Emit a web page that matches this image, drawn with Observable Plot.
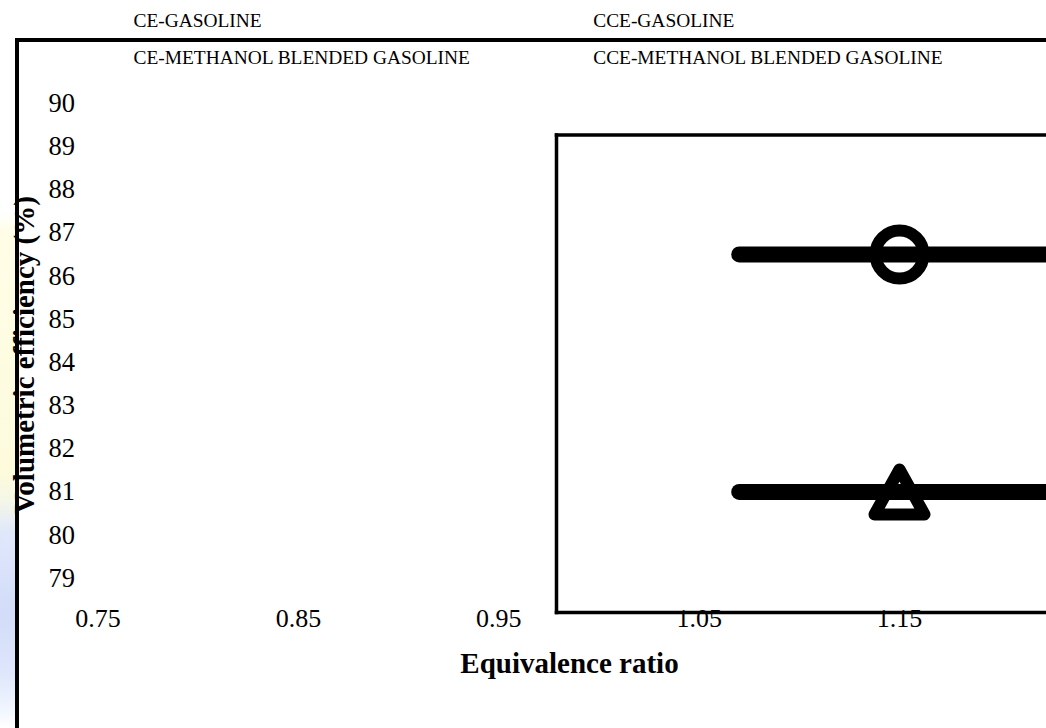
<!DOCTYPE html>
<html>
<head>
<meta charset="utf-8">
<script src="https://cdn.jsdelivr.net/npm/d3@7"></script>
<script src="https://cdn.jsdelivr.net/npm/@observablehq/plot@0.6"></script>
<style>
  html, body { margin: 0; padding: 0; background: #fff; overflow: hidden; }
  #wrap { position: relative; width: 1046px; height: 728px; overflow: hidden; }
  #bg { position: absolute; left: 0; top: 212px; width: 15px; height: 516px;
        background: linear-gradient(to bottom, #ffffff 0px, #fffde6 20px, #fdfbdc 260px, #f4f6e8 290px, #dfe8fb 320px, #d3dcf8 400px, #dde6fb 460px, #f2f6fe 500px, #ffffff 516px); }
  #outer { position: absolute; left: 15px; top: 38px; width: 1100px; height: 800px;
           border-top: 4px solid #000; border-left: 4px solid #000; box-sizing: border-box; }
  #chart { position: absolute; left: 0; top: 0; }
</style>
</head>
<body>
<div id="wrap">
  <div id="bg"></div>
  <div id="outer"></div>
  <div id="chart"></div>
</div>
<script>
// ---- data ----
const xTicks = [0.75, 0.85, 0.95, 1.05, 1.15];
const yTicks = [79, 80, 81, 82, 83, 84, 85, 86, 87, 88, 89, 90];
const phi = [1.07, 1.15, 1.25];
const veCircleSeries = [86.5, 86.5, 86.5];
const veTriangleSeries = [81, 81, 81];
const legendLeft = ["CE-GASOLINE", "CE-METHANOL BLENDED GASOLINE"];
const legendRight = ["CCE-GASOLINE", "CCE-METHANOL BLENDED GASOLINE"];
const xTitle = "Equivalence ratio";
const yTitle = "Volumetric efficiency (%)";

// ---- tables ----
const circleData = phi.map((x, i) => ({phi: x, ve: veCircleSeries[i], idx: i}));
const triangleData = phi.map((x, i) => ({phi: x, ve: veTriangleSeries[i], idx: i}));

// triangle centred on its bounding box (spreadsheet-style marker)
const boxTriangle = {
  draw(context, size) {
    const r = Math.sqrt(size / Math.PI);
    const h = r * 0.9;
    context.moveTo(0, -h);
    context.lineTo(r, h);
    context.lineTo(-r, h);
    context.closePath();
  }
};

const W = 1046, H = 728;
const font = "'Liberation Serif', 'Times New Roman', serif";

const chart = Plot.plot({
  width: W,
  height: H,
  marginLeft: 556,
  marginTop: 134.5,
  marginBottom: 116,
  marginRight: 0,
  style: {background: "transparent", fontFamily: font, fontSize: "26px", color: "#000"},
  x: {type: "linear", domain: [0.75, 1.15], range: [97.5, 899]},
  y: {type: "linear", domain: [79, 90], range: [577.8, 102.8]},
  marks: [
    Plot.axisX({ticks: xTicks, tickSize: 0, tickPadding: 0, dy: -3.5, fontSize: 26,
                tickFormat: d => d.toFixed(2), label: null}),
    Plot.axisY({ticks: yTicks, tickSize: 0, tickPadding: 0, dx: -508, textAnchor: "start",
                fontSize: 26.5, tickFormat: d => String(d), label: null}),
    Plot.frame({anchor: "left", stroke: "#000", strokeWidth: 3.5}),
    Plot.frame({anchor: "top", stroke: "#000", strokeWidth: 3.5}),
    Plot.frame({anchor: "bottom", stroke: "#000", strokeWidth: 3.5}),
    Plot.line(circleData, {x: "phi", y: "ve", stroke: "#000", strokeWidth: 16, strokeLinecap: "round"}),
    Plot.line(triangleData, {x: "phi", y: "ve", stroke: "#000", strokeWidth: 16, strokeLinecap: "round"}),
    Plot.dot(circleData, {filter: d => d.idx > 0, x: "phi", y: "ve", r: 24, symbol: "circle",
                          stroke: "#000", strokeWidth: 12, fill: "none"}),
    Plot.dot(triangleData, {filter: d => d.idx > 0, x: "phi", y: "ve", r: 25, symbol: boxTriangle,
                            stroke: "#000", strokeWidth: 12, fill: "none", strokeLinejoin: "round"}),
    Plot.text([legendLeft.join("\n")], {frameAnchor: "top-left", textAnchor: "start", lineAnchor: "top",
                                        lineHeight: 1.9, fontSize: 19.4, dx: -423, dy: -134, fill: "#000"}),
    Plot.text([legendRight.join("\n")], {frameAnchor: "top-left", textAnchor: "start", lineAnchor: "top",
                                         lineHeight: 1.9, fontSize: 19.4, dx: 36.7, dy: -134, fill: "#000"}),
    Plot.text([xTitle], {frameAnchor: "bottom", textAnchor: "middle", lineAnchor: "bottom",
                         fontSize: 29, fontWeight: "bold", dx: -232, dy: 60, fill: "#000"}),
    Plot.text([yTitle], {frameAnchor: "left", textAnchor: "middle", lineAnchor: "bottom", rotate: -90,
                         fontSize: 29, fontWeight: "bold", dx: -523, dy: -18.75, fill: "#000"})
  ]
});
document.getElementById("chart").appendChild(chart);
</script>
</body>
</html>
